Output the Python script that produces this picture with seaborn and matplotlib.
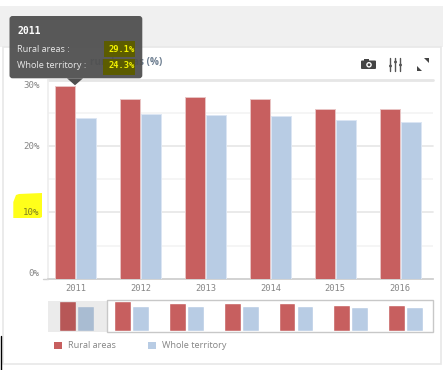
import pandas as pd
import matplotlib
matplotlib.use("Agg")
import matplotlib.pyplot as plt
from matplotlib.patches import Rectangle, FancyBboxPatch, Polygon, Circle
import seaborn as sns

years = ["2011", "2012", "2013", "2014", "2015", "2016"]
rural = [29.1, 27.1, 27.5, 27.2, 25.6, 25.6]
whole = [24.3, 24.8, 24.7, 24.5, 23.9, 23.6]
nav_years = ["2010"] + years
nav_rural = [29.4] + rural
nav_whole = [24.6] + whole
series = ["Rural areas", "Whole territory"]
y_major = [0, 10, 20, 30]
y_minor = [5, 15, 25]
y_labels = ["0%", "10%", "20%", "30%"]

W, H = 443, 370
RED = "#c75f5f"
BLUE = "#b8cce4"
GREY = "#858585"
MONO = "DejaVu Sans Mono"

sns.set_theme(style="white")
plt.rcParams["font.family"] = ["Open Sans", "DejaVu Sans"]

df = pd.DataFrame({"year": years * 2,
                   "value": rural + whole,
                   "series": [series[0]] * 6 + [series[1]] * 6})
nav_df = pd.DataFrame({"year": nav_years * 2,
                       "value": nav_rural + nav_whole,
                       "series": [series[0]] * 7 + [series[1]] * 7})
palette = {series[0]: RED, series[1]: BLUE}

fig = plt.figure(figsize=(W / 100, H / 100), dpi=100, facecolor="white")


def box(x0, y0, x1, y1):
    # pixel box, measured from the top left, to figure fractions
    return [x0 / W, 1 - y1 / H, (x1 - x0) / W, (y1 - y0) / H]


def pixel_axes(z):
    a = fig.add_axes([0, 0, 1, 1], zorder=z)
    a.set_xlim(0, W)
    a.set_ylim(H, 0)
    a.axis("off")
    a.patch.set_alpha(0)
    return a


bg = pixel_axes(0)
bg.add_patch(Rectangle((0, 6), W, 41, fc="#f0f0f0", ec="none"))
bg.add_patch(Rectangle((3, 47), 438.5, 316.5, fc="white", ec="#e8e8e8", lw=1.2))
bg.plot([0.5, 0.5], [336, 370], color="black", lw=1)

# main chart
ax = fig.add_axes(box(48, 80, 432.6, 278.7), zorder=1)
ax.patch.set_alpha(0)
sns.barplot(data=df, x="year", y="value", hue="series", palette=palette, ax=ax,
            width=0.647, gap=0.06, legend=False, saturation=1, zorder=3)
for cont, edge in zip(ax.containers, ["#e9c4c4", "#dbe6f4"]):
    for bar in cont:
        bar.set_edgecolor(edge)
        bar.set_linewidth(0.7)
ax.set_ylim(0, 30)
ax.set_xlim(-0.426, 5.5)
ax.set_xlabel("")
ax.set_ylabel("")
ax.set_yticks(y_major)
ax.set_yticks(y_minor, minor=True)
ax.set_yticklabels([])
ax.grid(axis="y", which="major", color="#e6e6e6", lw=1.2, clip_on=False)
ax.grid(axis="y", which="minor", color="#f3f3f3", lw=1.2)
ax.set_axisbelow(True)
ax.tick_params(axis="both", which="both", length=0)
ax.tick_params(axis="x", pad=4, labelsize=6.3, labelcolor=GREY)
for lab in ax.get_xticklabels():
    lab.set_family(MONO)
sns.despine(ax=ax, top=True, right=True)
ax.spines["bottom"].set_color("#d0d0d0")
ax.spines["left"].set_color("#eeeeee")
ax.get_ygridlines()[-1].set_linewidth(2)

# highlighter mark behind the 10% label
bg.add_patch(Polygon([[13.3, 202], [16, 195], [19, 194], [42, 193], [42, 217],
                      [40, 218], [13.3, 218]], fc="#ffff1a", ec="none"))
for s, py, c in zip(y_labels, [274, 212.7, 146.5, 86], [GREY, "#7d7d20", GREY, GREY]):
    bg.text(39.5, py, s, ha="right", va="center", fontsize=6.6, color=c, family=MONO)
bg.plot([43.3, 48], [278.7, 278.7], color="#d0d0d0", lw=1)

# title, the start of it sits behind the tooltip and cannot be read
bg.text(162, 63, "rural areas (%)", ha="right", va="center", fontsize=7.2,
        color="#6b7c8f", weight="bold")

# tool icons
ICON = "#444444"
bg.add_patch(FancyBboxPatch((361, 60.5), 15, 8.5, boxstyle="round,pad=0,rounding_size=1", fc=ICON, ec="none"))
bg.add_patch(Rectangle((364, 59), 5, 2, fc=ICON, ec="none"))
bg.add_patch(Circle((369, 64.8), 2.8, fc="white", ec="none"))
bg.add_patch(Circle((369, 64.8), 1.4, fc=ICON, ec="none"))
for x, knob in zip([390.5, 395.5, 400.5], [66, 62, 65]):
    bg.plot([x, x], [58, 71], color="#555555", lw=1)
    bg.add_patch(Circle((x, knob), 1.4, fc=ICON, ec="none"))
bg.add_patch(Polygon([[424, 58], [429, 58], [429, 63]], fc=ICON, ec="none"))
bg.add_patch(Polygon([[417.5, 66], [417.5, 71], [422.5, 71]], fc=ICON, ec="none"))

# navigator
nav = fig.add_axes(box(49.4, 301, 433, 331.3), zorder=1)
nav.patch.set_alpha(0)
sns.barplot(data=nav_df, x="year", y="value", hue="series", palette=palette, ax=nav,
            width=0.651, gap=0.06, legend=False, saturation=1, zorder=3)
nav.set_ylim(0, 29.4)
nav.set_xlim(-0.5, 6.5)
nav.axis("off")

over = pixel_axes(5)
over.add_patch(Rectangle((48, 301), 59, 30.5, fc="black", alpha=0.08, ec="none"))
over.add_patch(Rectangle((107, 300), 326.3, 31.7, fc="none", ec="#c8c8c8", lw=1))

# legend
for x, c, s in zip([54.3, 147.7], [RED, BLUE], series):
    bg.add_patch(Rectangle((x, 341.7), 8, 7.5, fc=c, ec="none"))
    bg.text(x + 14.2, 345.5, s, ha="left", va="center", fontsize=6.6, color=GREY)

# tooltip on top of everything
tip = pixel_axes(10)
tip.add_patch(FancyBboxPatch((9.5, 16), 132.8, 62.3, boxstyle="round,pad=0,rounding_size=3",
                             fc="#505050", ec="none", alpha=0.95))
tip.add_patch(Polygon([[67, 78.3], [83, 78.3], [75, 85.3]], fc="#505050", ec="none"))
tip.add_patch(Rectangle((104, 41.3), 31, 15.4, fc="#5c5c00", ec="none"))
tip.add_patch(Rectangle((103.3, 59.3), 31.7, 15.7, fc="#5c5c00", ec="none"))
tip.text(17.5, 31, years[0], color="white", fontsize=7, weight="bold", va="center", family=MONO)
tip.text(16.7, 49.3, series[0] + " :", color="#e8e8e8", fontsize=6.6, va="center")
tip.text(16.7, 65, series[1] + " :", color="#e8e8e8", fontsize=6.6, va="center")
tip.text(134.5, 49, f"{rural[0]}%", color="#f2f200", fontsize=6.3, va="center", ha="right",
         family=MONO, weight="bold")
tip.text(134.5, 65, f"{whole[0]}%", color="#f2f200", fontsize=6.3, va="center", ha="right",
         family=MONO, weight="bold")

fig.savefig("out.png", dpi=100)
plt.close("all")
